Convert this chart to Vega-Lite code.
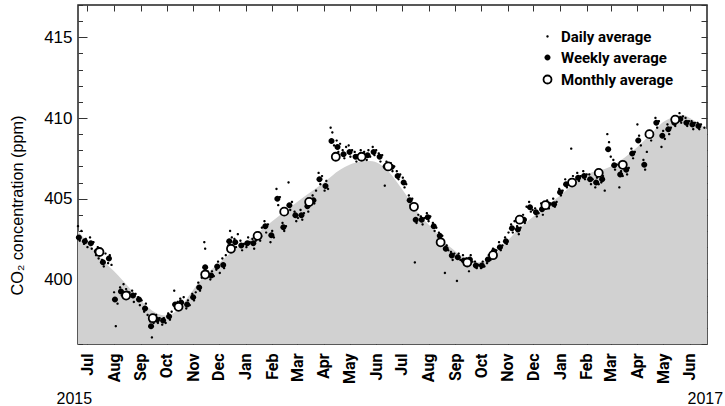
{
  "$schema": "https://vega.github.io/schema/vega-lite/v6.json",
  "width": 629,
  "height": 339,
  "autosize": {"type": "none"},
  "padding": {"left": 78, "top": 5, "right": 18, "bottom": 62},
  "background": "white",
  "config": {
    "view": {"stroke": "#222", "strokeWidth": 1.5},
    "axis": {"grid": false, "domain": false, "tickColor": "#333", "tickWidth": 1, "labelColor": "#000", "titleColor": "#000"}
  },
  "datasets": {
    "curve": [
      {"d": "2015-06-20", "v": 403.0}, {"d": "2015-07-01", "v": 402.3}, {"d": "2015-07-15", "v": 401.4},
      {"d": "2015-08-01", "v": 400.5}, {"d": "2015-08-10", "v": 400.0}, {"d": "2015-08-20", "v": 399.4},
      {"d": "2015-09-01", "v": 398.7}, {"d": "2015-09-15", "v": 398.05}, {"d": "2015-09-25", "v": 397.8},
      {"d": "2015-10-02", "v": 397.75}, {"d": "2015-10-10", "v": 397.95}, {"d": "2015-10-20", "v": 398.5},
      {"d": "2015-11-01", "v": 399.35}, {"d": "2015-11-12", "v": 400.1}, {"d": "2015-12-01", "v": 401.0},
      {"d": "2015-12-15", "v": 401.65}, {"d": "2016-01-01", "v": 402.3}, {"d": "2016-02-01", "v": 403.6},
      {"d": "2016-03-01", "v": 404.8}, {"d": "2016-04-01", "v": 406.0}, {"d": "2016-04-20", "v": 406.8},
      {"d": "2016-05-01", "v": 407.1}, {"d": "2016-05-15", "v": 407.3}, {"d": "2016-05-25", "v": 407.33},
      {"d": "2016-06-05", "v": 407.15}, {"d": "2016-06-15", "v": 406.7}, {"d": "2016-07-01", "v": 405.6},
      {"d": "2016-07-10", "v": 404.9}, {"d": "2016-07-20", "v": 404.1}, {"d": "2016-08-01", "v": 403.4},
      {"d": "2016-08-10", "v": 402.9}, {"d": "2016-08-20", "v": 402.3}, {"d": "2016-09-01", "v": 401.75},
      {"d": "2016-09-15", "v": 401.2}, {"d": "2016-09-25", "v": 401.05}, {"d": "2016-10-02", "v": 401.1},
      {"d": "2016-10-15", "v": 401.5}, {"d": "2016-11-01", "v": 402.4}, {"d": "2016-11-15", "v": 403.2},
      {"d": "2016-12-01", "v": 403.9}, {"d": "2017-01-01", "v": 405.2}, {"d": "2017-02-01", "v": 406.5},
      {"d": "2017-03-01", "v": 407.0}, {"d": "2017-04-01", "v": 408.2}, {"d": "2017-04-20", "v": 409.2},
      {"d": "2017-05-01", "v": 409.75}, {"d": "2017-05-15", "v": 410.1}, {"d": "2017-05-22", "v": 410.2},
      {"d": "2017-06-01", "v": 410.0}, {"d": "2017-06-10", "v": 409.7}, {"d": "2017-06-21", "v": 409.3}
    ],
    "obs": [
      {"d": "2015-06-20", "v": 403.3, "s": "D"}, {"d": "2015-06-22", "v": 402.4, "s": "D"}, {"d": "2015-06-24", "v": 403.0, "s": "D"},
      {"d": "2015-06-27", "v": 402.2, "s": "D"}, {"d": "2015-06-29", "v": 402.5, "s": "D"}, {"d": "2015-07-01", "v": 402.0, "s": "D"},
      {"d": "2015-07-04", "v": 402.6, "s": "D"}, {"d": "2015-07-06", "v": 401.9, "s": "D"}, {"d": "2015-07-08", "v": 402.3, "s": "D"},
      {"d": "2015-07-11", "v": 401.5, "s": "D"}, {"d": "2015-07-13", "v": 402.0, "s": "D"}, {"d": "2015-07-14", "v": 401.3, "s": "D"},
      {"d": "2015-07-18", "v": 401.2, "s": "D"}, {"d": "2015-07-20", "v": 400.8, "s": "D"}, {"d": "2015-07-22", "v": 401.6, "s": "D"},
      {"d": "2015-07-25", "v": 401.0, "s": "D"}, {"d": "2015-07-27", "v": 401.5, "s": "D"}, {"d": "2015-07-29", "v": 400.9, "s": "D"},
      {"d": "2015-08-01", "v": 399.2, "s": "D"}, {"d": "2015-08-03", "v": 397.1, "s": "D"}, {"d": "2015-08-05", "v": 398.5, "s": "D"},
      {"d": "2015-08-08", "v": 399.5, "s": "D"}, {"d": "2015-08-10", "v": 399.0, "s": "D"}, {"d": "2015-08-12", "v": 399.7, "s": "D"},
      {"d": "2015-08-15", "v": 399.4, "s": "D"}, {"d": "2015-08-17", "v": 398.9, "s": "D"}, {"d": "2015-08-19", "v": 399.2, "s": "D"},
      {"d": "2015-08-22", "v": 399.3, "s": "D"}, {"d": "2015-08-24", "v": 398.6, "s": "D"}, {"d": "2015-08-26", "v": 399.1, "s": "D"},
      {"d": "2015-08-29", "v": 398.9, "s": "D"}, {"d": "2015-08-31", "v": 398.4, "s": "D"}, {"d": "2015-09-02", "v": 398.7, "s": "D"},
      {"d": "2015-09-05", "v": 398.0, "s": "D"}, {"d": "2015-09-07", "v": 398.5, "s": "D"}, {"d": "2015-09-09", "v": 397.8, "s": "D"},
      {"d": "2015-09-12", "v": 397.4, "s": "D"}, {"d": "2015-09-14", "v": 396.4, "s": "D"}, {"d": "2015-09-16", "v": 397.3, "s": "D"},
      {"d": "2015-09-19", "v": 397.8, "s": "D"}, {"d": "2015-09-21", "v": 397.3, "s": "D"}, {"d": "2015-09-23", "v": 397.6, "s": "D"},
      {"d": "2015-09-26", "v": 397.2, "s": "D"}, {"d": "2015-09-28", "v": 397.6, "s": "D"}, {"d": "2015-09-30", "v": 397.3, "s": "D"},
      {"d": "2015-10-03", "v": 397.9, "s": "D"}, {"d": "2015-10-05", "v": 397.5, "s": "D"}, {"d": "2015-10-07", "v": 398.0, "s": "D"},
      {"d": "2015-10-10", "v": 399.3, "s": "D"}, {"d": "2015-10-12", "v": 398.3, "s": "D"}, {"d": "2015-10-14", "v": 398.6, "s": "D"},
      {"d": "2015-10-17", "v": 398.8, "s": "D"}, {"d": "2015-10-19", "v": 398.3, "s": "D"}, {"d": "2015-10-21", "v": 398.9, "s": "D"},
      {"d": "2015-10-24", "v": 398.2, "s": "D"}, {"d": "2015-10-26", "v": 398.7, "s": "D"}, {"d": "2015-10-28", "v": 398.4, "s": "D"},
      {"d": "2015-10-31", "v": 399.1, "s": "D"}, {"d": "2015-11-02", "v": 398.7, "s": "D"}, {"d": "2015-11-04", "v": 399.2, "s": "D"},
      {"d": "2015-11-07", "v": 399.8, "s": "D"}, {"d": "2015-11-09", "v": 399.3, "s": "D"}, {"d": "2015-11-11", "v": 400.1, "s": "D"},
      {"d": "2015-11-14", "v": 402.3, "s": "D"}, {"d": "2015-11-15", "v": 401.9, "s": "D"}, {"d": "2015-11-18", "v": 400.5, "s": "D"},
      {"d": "2015-11-21", "v": 400.0, "s": "D"}, {"d": "2015-11-23", "v": 400.5, "s": "D"}, {"d": "2015-11-25", "v": 400.2, "s": "D"},
      {"d": "2015-11-28", "v": 400.6, "s": "D"}, {"d": "2015-11-30", "v": 401.1, "s": "D"}, {"d": "2015-12-02", "v": 400.4, "s": "D"},
      {"d": "2015-12-05", "v": 401.3, "s": "D"}, {"d": "2015-12-07", "v": 400.7, "s": "D"}, {"d": "2015-12-09", "v": 401.5, "s": "D"},
      {"d": "2015-12-12", "v": 402.1, "s": "D"}, {"d": "2015-12-14", "v": 403.0, "s": "D"}, {"d": "2015-12-16", "v": 402.6, "s": "D"},
      {"d": "2015-12-19", "v": 402.5, "s": "D"}, {"d": "2015-12-21", "v": 402.0, "s": "D"}, {"d": "2015-12-23", "v": 402.8, "s": "D"},
      {"d": "2015-12-26", "v": 402.4, "s": "D"}, {"d": "2015-12-28", "v": 401.8, "s": "D"}, {"d": "2015-12-30", "v": 402.2, "s": "D"},
      {"d": "2016-01-02", "v": 402.0, "s": "D"}, {"d": "2016-01-04", "v": 402.6, "s": "D"}, {"d": "2016-01-06", "v": 402.3, "s": "D"},
      {"d": "2016-01-09", "v": 402.5, "s": "D"}, {"d": "2016-01-11", "v": 401.9, "s": "D"}, {"d": "2016-01-13", "v": 402.4, "s": "D"},
      {"d": "2016-01-16", "v": 402.9, "s": "D"}, {"d": "2016-01-18", "v": 402.4, "s": "D"}, {"d": "2016-01-20", "v": 403.2, "s": "D"},
      {"d": "2016-01-23", "v": 403.6, "s": "D"}, {"d": "2016-01-25", "v": 402.9, "s": "D"}, {"d": "2016-01-27", "v": 403.4, "s": "D"},
      {"d": "2016-01-30", "v": 402.3, "s": "D"}, {"d": "2016-02-01", "v": 403.0, "s": "D"}, {"d": "2016-02-03", "v": 402.6, "s": "D"},
      {"d": "2016-02-06", "v": 405.6, "s": "D"}, {"d": "2016-02-08", "v": 404.6, "s": "D"}, {"d": "2016-02-10", "v": 405.1, "s": "D"},
      {"d": "2016-02-13", "v": 403.5, "s": "D"}, {"d": "2016-02-15", "v": 403.0, "s": "D"}, {"d": "2016-02-17", "v": 403.3, "s": "D"},
      {"d": "2016-02-20", "v": 406.0, "s": "D"}, {"d": "2016-02-22", "v": 404.3, "s": "D"}, {"d": "2016-02-24", "v": 404.8, "s": "D"},
      {"d": "2016-02-27", "v": 404.2, "s": "D"}, {"d": "2016-02-29", "v": 403.6, "s": "D"}, {"d": "2016-03-02", "v": 403.8, "s": "D"},
      {"d": "2016-03-05", "v": 404.3, "s": "D"}, {"d": "2016-03-07", "v": 403.7, "s": "D"}, {"d": "2016-03-09", "v": 404.1, "s": "D"},
      {"d": "2016-03-12", "v": 404.8, "s": "D"}, {"d": "2016-03-14", "v": 404.2, "s": "D"}, {"d": "2016-03-16", "v": 404.6, "s": "D"},
      {"d": "2016-03-19", "v": 405.2, "s": "D"}, {"d": "2016-03-21", "v": 404.7, "s": "D"}, {"d": "2016-03-23", "v": 405.5, "s": "D"},
      {"d": "2016-03-26", "v": 406.6, "s": "D"}, {"d": "2016-03-28", "v": 405.9, "s": "D"}, {"d": "2016-03-30", "v": 406.4, "s": "D"},
      {"d": "2016-04-02", "v": 405.5, "s": "D"}, {"d": "2016-04-04", "v": 406.1, "s": "D"}, {"d": "2016-04-06", "v": 405.6, "s": "D"},
      {"d": "2016-04-09", "v": 409.4, "s": "D"}, {"d": "2016-04-11", "v": 409.1, "s": "D"}, {"d": "2016-04-13", "v": 408.3, "s": "D"},
      {"d": "2016-04-16", "v": 408.6, "s": "D"}, {"d": "2016-04-18", "v": 407.9, "s": "D"}, {"d": "2016-04-20", "v": 408.4, "s": "D"},
      {"d": "2016-04-23", "v": 408.0, "s": "D"}, {"d": "2016-04-25", "v": 407.5, "s": "D"}, {"d": "2016-04-27", "v": 408.2, "s": "D"},
      {"d": "2016-04-30", "v": 408.3, "s": "D"}, {"d": "2016-05-02", "v": 407.6, "s": "D"}, {"d": "2016-05-04", "v": 408.0, "s": "D"},
      {"d": "2016-05-07", "v": 407.9, "s": "D"}, {"d": "2016-05-09", "v": 407.3, "s": "D"}, {"d": "2016-05-11", "v": 407.7, "s": "D"},
      {"d": "2016-05-14", "v": 408.0, "s": "D"}, {"d": "2016-05-16", "v": 407.5, "s": "D"}, {"d": "2016-05-18", "v": 407.9, "s": "D"},
      {"d": "2016-05-21", "v": 407.4, "s": "D"}, {"d": "2016-05-23", "v": 408.0, "s": "D"}, {"d": "2016-05-25", "v": 407.6, "s": "D"},
      {"d": "2016-05-28", "v": 408.2, "s": "D"}, {"d": "2016-05-30", "v": 407.7, "s": "D"}, {"d": "2016-06-01", "v": 408.0, "s": "D"},
      {"d": "2016-06-04", "v": 407.8, "s": "D"}, {"d": "2016-06-06", "v": 407.3, "s": "D"}, {"d": "2016-06-08", "v": 407.7, "s": "D"},
      {"d": "2016-06-11", "v": 405.8, "s": "D"}, {"d": "2016-06-13", "v": 407.3, "s": "D"}, {"d": "2016-06-15", "v": 406.8, "s": "D"},
      {"d": "2016-06-18", "v": 407.2, "s": "D"}, {"d": "2016-06-20", "v": 406.7, "s": "D"}, {"d": "2016-06-22", "v": 407.0, "s": "D"},
      {"d": "2016-06-25", "v": 406.7, "s": "D"}, {"d": "2016-06-27", "v": 406.2, "s": "D"}, {"d": "2016-06-29", "v": 406.5, "s": "D"},
      {"d": "2016-07-02", "v": 406.3, "s": "D"}, {"d": "2016-07-04", "v": 405.7, "s": "D"}, {"d": "2016-07-06", "v": 405.9, "s": "D"},
      {"d": "2016-07-09", "v": 405.2, "s": "D"}, {"d": "2016-07-11", "v": 404.6, "s": "D"}, {"d": "2016-07-13", "v": 405.0, "s": "D"},
      {"d": "2016-07-16", "v": 401.05, "s": "D"}, {"d": "2016-07-18", "v": 403.5, "s": "D"}, {"d": "2016-07-20", "v": 404.0, "s": "D"},
      {"d": "2016-07-23", "v": 403.9, "s": "D"}, {"d": "2016-07-25", "v": 403.4, "s": "D"}, {"d": "2016-07-27", "v": 403.8, "s": "D"},
      {"d": "2016-07-30", "v": 404.1, "s": "D"}, {"d": "2016-08-01", "v": 403.6, "s": "D"}, {"d": "2016-08-03", "v": 403.9, "s": "D"},
      {"d": "2016-08-06", "v": 403.5, "s": "D"}, {"d": "2016-08-08", "v": 403.0, "s": "D"}, {"d": "2016-08-10", "v": 403.2, "s": "D"},
      {"d": "2016-08-13", "v": 402.9, "s": "D"}, {"d": "2016-08-15", "v": 402.4, "s": "D"}, {"d": "2016-08-17", "v": 402.7, "s": "D"},
      {"d": "2016-08-20", "v": 400.4, "s": "D"}, {"d": "2016-08-22", "v": 402.1, "s": "D"}, {"d": "2016-08-24", "v": 401.8, "s": "D"},
      {"d": "2016-08-27", "v": 401.7, "s": "D"}, {"d": "2016-08-29", "v": 401.2, "s": "D"}, {"d": "2016-08-31", "v": 401.6, "s": "D"},
      {"d": "2016-09-03", "v": 399.9, "s": "D"}, {"d": "2016-09-05", "v": 401.6, "s": "D"}, {"d": "2016-09-07", "v": 401.2, "s": "D"},
      {"d": "2016-09-10", "v": 401.5, "s": "D"}, {"d": "2016-09-12", "v": 400.9, "s": "D"}, {"d": "2016-09-14", "v": 401.3, "s": "D"},
      {"d": "2016-09-17", "v": 400.5, "s": "D"}, {"d": "2016-09-19", "v": 401.5, "s": "D"}, {"d": "2016-09-21", "v": 401.1, "s": "D"},
      {"d": "2016-09-24", "v": 401.1, "s": "D"}, {"d": "2016-09-26", "v": 400.7, "s": "D"}, {"d": "2016-09-28", "v": 400.9, "s": "D"},
      {"d": "2016-10-01", "v": 400.7, "s": "D"}, {"d": "2016-10-03", "v": 401.1, "s": "D"}, {"d": "2016-10-05", "v": 400.8, "s": "D"},
      {"d": "2016-10-08", "v": 401.0, "s": "D"}, {"d": "2016-10-10", "v": 401.5, "s": "D"}, {"d": "2016-10-12", "v": 401.2, "s": "D"},
      {"d": "2016-10-15", "v": 401.9, "s": "D"}, {"d": "2016-10-17", "v": 401.5, "s": "D"}, {"d": "2016-10-19", "v": 401.8, "s": "D"},
      {"d": "2016-10-22", "v": 402.3, "s": "D"}, {"d": "2016-10-24", "v": 401.8, "s": "D"}, {"d": "2016-10-26", "v": 402.1, "s": "D"},
      {"d": "2016-10-29", "v": 402.6, "s": "D"}, {"d": "2016-10-31", "v": 402.2, "s": "D"}, {"d": "2016-11-02", "v": 402.9, "s": "D"},
      {"d": "2016-11-05", "v": 403.4, "s": "D"}, {"d": "2016-11-07", "v": 402.9, "s": "D"}, {"d": "2016-11-09", "v": 403.6, "s": "D"},
      {"d": "2016-11-12", "v": 403.3, "s": "D"}, {"d": "2016-11-14", "v": 402.8, "s": "D"}, {"d": "2016-11-16", "v": 403.2, "s": "D"},
      {"d": "2016-11-19", "v": 404.0, "s": "D"}, {"d": "2016-11-21", "v": 403.5, "s": "D"}, {"d": "2016-11-23", "v": 404.5, "s": "D"},
      {"d": "2016-11-26", "v": 404.8, "s": "D"}, {"d": "2016-11-28", "v": 404.2, "s": "D"}, {"d": "2016-11-30", "v": 404.3, "s": "D"},
      {"d": "2016-12-03", "v": 404.4, "s": "D"}, {"d": "2016-12-05", "v": 403.9, "s": "D"}, {"d": "2016-12-07", "v": 404.1, "s": "D"},
      {"d": "2016-12-10", "v": 404.7, "s": "D"}, {"d": "2016-12-12", "v": 404.0, "s": "D"}, {"d": "2016-12-14", "v": 404.5, "s": "D"},
      {"d": "2016-12-17", "v": 404.9, "s": "D"}, {"d": "2016-12-19", "v": 404.4, "s": "D"}, {"d": "2016-12-21", "v": 404.7, "s": "D"},
      {"d": "2016-12-24", "v": 405.0, "s": "D"}, {"d": "2016-12-26", "v": 404.5, "s": "D"}, {"d": "2016-12-28", "v": 404.8, "s": "D"},
      {"d": "2016-12-31", "v": 405.6, "s": "D"}, {"d": "2017-01-02", "v": 405.2, "s": "D"}, {"d": "2017-01-04", "v": 405.5, "s": "D"},
      {"d": "2017-01-07", "v": 406.2, "s": "D"}, {"d": "2017-01-09", "v": 405.7, "s": "D"}, {"d": "2017-01-11", "v": 406.0, "s": "D"},
      {"d": "2017-01-14", "v": 408.1, "s": "D"}, {"d": "2017-01-16", "v": 406.4, "s": "D"}, {"d": "2017-01-18", "v": 405.9, "s": "D"},
      {"d": "2017-01-21", "v": 406.6, "s": "D"}, {"d": "2017-01-23", "v": 406.1, "s": "D"}, {"d": "2017-01-25", "v": 406.4, "s": "D"},
      {"d": "2017-01-28", "v": 406.7, "s": "D"}, {"d": "2017-01-30", "v": 406.2, "s": "D"}, {"d": "2017-02-01", "v": 406.5, "s": "D"},
      {"d": "2017-02-04", "v": 406.5, "s": "D"}, {"d": "2017-02-06", "v": 405.9, "s": "D"}, {"d": "2017-02-08", "v": 406.2, "s": "D"},
      {"d": "2017-02-11", "v": 405.7, "s": "D"}, {"d": "2017-02-13", "v": 406.3, "s": "D"}, {"d": "2017-02-15", "v": 405.9, "s": "D"},
      {"d": "2017-02-18", "v": 406.0, "s": "D"}, {"d": "2017-02-20", "v": 406.4, "s": "D"}, {"d": "2017-02-22", "v": 405.5, "s": "D"},
      {"d": "2017-02-25", "v": 409.0, "s": "D"}, {"d": "2017-02-27", "v": 408.5, "s": "D"}, {"d": "2017-03-01", "v": 407.6, "s": "D"},
      {"d": "2017-03-04", "v": 407.4, "s": "D"}, {"d": "2017-03-06", "v": 406.8, "s": "D"}, {"d": "2017-03-08", "v": 407.1, "s": "D"},
      {"d": "2017-03-11", "v": 405.7, "s": "D"}, {"d": "2017-03-13", "v": 406.7, "s": "D"}, {"d": "2017-03-15", "v": 406.4, "s": "D"},
      {"d": "2017-03-18", "v": 407.1, "s": "D"}, {"d": "2017-03-20", "v": 406.5, "s": "D"}, {"d": "2017-03-22", "v": 406.9, "s": "D"},
      {"d": "2017-03-25", "v": 408.1, "s": "D"}, {"d": "2017-03-27", "v": 407.5, "s": "D"}, {"d": "2017-03-29", "v": 407.9, "s": "D"},
      {"d": "2017-04-01", "v": 409.6, "s": "D"}, {"d": "2017-04-03", "v": 408.9, "s": "D"}, {"d": "2017-04-05", "v": 408.3, "s": "D"},
      {"d": "2017-04-08", "v": 407.4, "s": "D"}, {"d": "2017-04-10", "v": 406.8, "s": "D"}, {"d": "2017-04-12", "v": 407.9, "s": "D"},
      {"d": "2017-04-15", "v": 409.2, "s": "D"}, {"d": "2017-04-17", "v": 408.6, "s": "D"}, {"d": "2017-04-19", "v": 409.0, "s": "D"},
      {"d": "2017-04-22", "v": 410.0, "s": "D"}, {"d": "2017-04-24", "v": 409.4, "s": "D"}, {"d": "2017-04-26", "v": 409.8, "s": "D"},
      {"d": "2017-04-29", "v": 408.2, "s": "D"}, {"d": "2017-05-01", "v": 409.2, "s": "D"}, {"d": "2017-05-03", "v": 408.7, "s": "D"},
      {"d": "2017-05-06", "v": 409.6, "s": "D"}, {"d": "2017-05-08", "v": 409.0, "s": "D"}, {"d": "2017-05-10", "v": 409.4, "s": "D"},
      {"d": "2017-05-13", "v": 410.0, "s": "D"}, {"d": "2017-05-15", "v": 409.5, "s": "D"}, {"d": "2017-05-17", "v": 409.9, "s": "D"},
      {"d": "2017-05-20", "v": 410.3, "s": "D"}, {"d": "2017-05-22", "v": 409.7, "s": "D"}, {"d": "2017-05-24", "v": 410.1, "s": "D"},
      {"d": "2017-05-27", "v": 410.0, "s": "D"}, {"d": "2017-05-29", "v": 409.5, "s": "D"}, {"d": "2017-05-31", "v": 409.8, "s": "D"},
      {"d": "2017-06-03", "v": 409.8, "s": "D"}, {"d": "2017-06-05", "v": 409.3, "s": "D"}, {"d": "2017-06-07", "v": 409.7, "s": "D"},
      {"d": "2017-06-10", "v": 409.7, "s": "D"}, {"d": "2017-06-12", "v": 409.3, "s": "D"}, {"d": "2017-06-14", "v": 409.6, "s": "D"},
      {"d": "2017-06-18", "v": 409.4, "s": "D"},

      {"d": "2015-06-21", "v": 402.6, "s": "W"}, {"d": "2015-06-28", "v": 402.36, "s": "W"}, {"d": "2015-07-05", "v": 402.24, "s": "W"},
      {"d": "2015-07-12", "v": 401.74, "s": "W"}, {"d": "2015-07-19", "v": 401.06, "s": "W"}, {"d": "2015-07-26", "v": 401.3, "s": "W"},
      {"d": "2015-08-02", "v": 398.76, "s": "W"}, {"d": "2015-08-09", "v": 399.25, "s": "W"}, {"d": "2015-08-16", "v": 399.13, "s": "W"},
      {"d": "2015-08-23", "v": 399.0, "s": "W"}, {"d": "2015-08-30", "v": 398.76, "s": "W"}, {"d": "2015-09-06", "v": 398.2, "s": "W"},
      {"d": "2015-09-13", "v": 397.1, "s": "W"}, {"d": "2015-09-20", "v": 397.5, "s": "W"}, {"d": "2015-09-27", "v": 397.45, "s": "W"},
      {"d": "2015-10-04", "v": 397.7, "s": "W"}, {"d": "2015-10-11", "v": 398.45, "s": "W"}, {"d": "2015-10-18", "v": 398.57, "s": "W"},
      {"d": "2015-10-25", "v": 398.45, "s": "W"}, {"d": "2015-11-01", "v": 398.9, "s": "W"}, {"d": "2015-11-08", "v": 399.5, "s": "W"},
      {"d": "2015-11-15", "v": 400.75, "s": "W"}, {"d": "2015-11-22", "v": 400.25, "s": "W"}, {"d": "2015-11-29", "v": 400.8, "s": "W"},
      {"d": "2015-12-06", "v": 400.9, "s": "W"}, {"d": "2015-12-13", "v": 402.36, "s": "W"}, {"d": "2015-12-20", "v": 402.3, "s": "W"},
      {"d": "2015-12-27", "v": 402.1, "s": "W"}, {"d": "2016-01-03", "v": 402.24, "s": "W"}, {"d": "2016-01-10", "v": 402.24, "s": "W"},
      {"d": "2016-01-17", "v": 402.67, "s": "W"}, {"d": "2016-01-24", "v": 403.29, "s": "W"}, {"d": "2016-01-31", "v": 402.73, "s": "W"},
      {"d": "2016-02-07", "v": 405.0, "s": "W"}, {"d": "2016-02-14", "v": 403.23, "s": "W"}, {"d": "2016-02-21", "v": 404.6, "s": "W"},
      {"d": "2016-02-28", "v": 403.98, "s": "W"}, {"d": "2016-03-06", "v": 403.98, "s": "W"}, {"d": "2016-03-13", "v": 404.53, "s": "W"},
      {"d": "2016-03-20", "v": 404.9, "s": "W"}, {"d": "2016-03-27", "v": 406.2, "s": "W"}, {"d": "2016-04-03", "v": 405.78, "s": "W"},
      {"d": "2016-04-10", "v": 408.57, "s": "W"}, {"d": "2016-04-17", "v": 408.2, "s": "W"}, {"d": "2016-04-24", "v": 407.76, "s": "W"},
      {"d": "2016-05-01", "v": 407.9, "s": "W"}, {"d": "2016-05-08", "v": 407.6, "s": "W"}, {"d": "2016-05-15", "v": 407.7, "s": "W"},
      {"d": "2016-05-22", "v": 407.7, "s": "W"}, {"d": "2016-05-29", "v": 407.9, "s": "W"}, {"d": "2016-06-05", "v": 407.6, "s": "W"},
      {"d": "2016-06-12", "v": 407.0, "s": "W"}, {"d": "2016-06-19", "v": 406.96, "s": "W"}, {"d": "2016-06-26", "v": 406.4, "s": "W"},
      {"d": "2016-07-03", "v": 406.0, "s": "W"}, {"d": "2016-07-10", "v": 404.9, "s": "W"}, {"d": "2016-07-17", "v": 403.7, "s": "W"},
      {"d": "2016-07-24", "v": 403.7, "s": "W"}, {"d": "2016-07-31", "v": 403.85, "s": "W"}, {"d": "2016-08-07", "v": 403.29, "s": "W"},
      {"d": "2016-08-14", "v": 402.7, "s": "W"}, {"d": "2016-08-21", "v": 401.9, "s": "W"}, {"d": "2016-08-28", "v": 401.49, "s": "W"},
      {"d": "2016-09-04", "v": 401.37, "s": "W"}, {"d": "2016-09-11", "v": 401.18, "s": "W"}, {"d": "2016-09-18", "v": 401.24, "s": "W"},
      {"d": "2016-09-25", "v": 400.87, "s": "W"}, {"d": "2016-10-02", "v": 400.87, "s": "W"}, {"d": "2016-10-09", "v": 401.24, "s": "W"},
      {"d": "2016-10-16", "v": 401.74, "s": "W"}, {"d": "2016-10-23", "v": 402.0, "s": "W"}, {"d": "2016-10-30", "v": 402.36, "s": "W"},
      {"d": "2016-11-06", "v": 403.17, "s": "W"}, {"d": "2016-11-13", "v": 403.1, "s": "W"}, {"d": "2016-11-20", "v": 403.7, "s": "W"},
      {"d": "2016-11-27", "v": 404.47, "s": "W"}, {"d": "2016-12-04", "v": 404.16, "s": "W"}, {"d": "2016-12-11", "v": 404.35, "s": "W"},
      {"d": "2016-12-18", "v": 404.66, "s": "W"}, {"d": "2016-12-25", "v": 404.66, "s": "W"}, {"d": "2017-01-01", "v": 405.4, "s": "W"},
      {"d": "2017-01-08", "v": 405.9, "s": "W"}, {"d": "2017-01-15", "v": 406.1, "s": "W"}, {"d": "2017-01-22", "v": 406.3, "s": "W"},
      {"d": "2017-01-29", "v": 406.4, "s": "W"}, {"d": "2017-02-05", "v": 406.2, "s": "W"}, {"d": "2017-02-12", "v": 406.0, "s": "W"},
      {"d": "2017-02-19", "v": 406.2, "s": "W"}, {"d": "2017-02-26", "v": 408.07, "s": "W"}, {"d": "2017-03-05", "v": 407.08, "s": "W"},
      {"d": "2017-03-12", "v": 406.5, "s": "W"}, {"d": "2017-03-19", "v": 406.8, "s": "W"}, {"d": "2017-03-26", "v": 407.8, "s": "W"},
      {"d": "2017-04-02", "v": 408.6, "s": "W"}, {"d": "2017-04-09", "v": 407.1, "s": "W"}, {"d": "2017-04-16", "v": 408.9, "s": "W"},
      {"d": "2017-04-23", "v": 409.7, "s": "W"}, {"d": "2017-04-30", "v": 408.9, "s": "W"}, {"d": "2017-05-07", "v": 409.3, "s": "W"},
      {"d": "2017-05-14", "v": 409.7, "s": "W"}, {"d": "2017-05-21", "v": 409.94, "s": "W"}, {"d": "2017-05-28", "v": 409.7, "s": "W"},
      {"d": "2017-06-04", "v": 409.6, "s": "W"}, {"d": "2017-06-11", "v": 409.5, "s": "W"},

      {"d": "2015-07-15", "v": 401.7, "s": "M"}, {"d": "2015-08-15", "v": 399.0, "s": "M"}, {"d": "2015-09-15", "v": 397.6, "s": "M"},
      {"d": "2015-10-15", "v": 398.3, "s": "M"}, {"d": "2015-11-15", "v": 400.3, "s": "M"}, {"d": "2015-12-15", "v": 401.9, "s": "M"},
      {"d": "2016-01-15", "v": 402.7, "s": "M"}, {"d": "2016-02-15", "v": 404.2, "s": "M"}, {"d": "2016-03-15", "v": 404.8, "s": "M"},
      {"d": "2016-04-15", "v": 407.6, "s": "M"}, {"d": "2016-05-15", "v": 407.6, "s": "M"}, {"d": "2016-06-15", "v": 407.0, "s": "M"},
      {"d": "2016-07-15", "v": 404.5, "s": "M"}, {"d": "2016-08-15", "v": 402.3, "s": "M"}, {"d": "2016-09-15", "v": 401.05, "s": "M"},
      {"d": "2016-10-15", "v": 401.5, "s": "M"}, {"d": "2016-11-15", "v": 403.7, "s": "M"}, {"d": "2016-12-15", "v": 404.6, "s": "M"},
      {"d": "2017-01-15", "v": 406.0, "s": "M"}, {"d": "2017-02-15", "v": 406.6, "s": "M"}, {"d": "2017-03-15", "v": 407.1, "s": "M"},
      {"d": "2017-04-15", "v": 409.0, "s": "M"}, {"d": "2017-05-15", "v": 409.9, "s": "M"}
    ]
  },
  "resolve": {"axis": {"x": "independent", "y": "independent"}},
  "layer": [
    {
      "data": {"name": "curve"},
      "mark": {"type": "area", "color": "#d1d1d1", "interpolate": "monotone"},
      "encoding": {
        "x": {
          "field": "d", "type": "temporal",
          "scale": {"domain": [{"year": 2015, "month": 6, "date": 20}, {"year": 2017, "month": 6, "date": 21}], "nice": false},
          "axis": {
            "orient": "bottom", "tickCount": {"interval": "month", "step": 1}, "format": "%b",
            "labelAngle": -90, "labelFont": "Roboto", "labelFontSize": 16, "labelFontWeight": "bold", "labelColor": "#000",
            "labelFlush": false, "labelOverlap": false, "labelBound": false,
            "tickSize": -6, "labelPadding": 15,
            "title": "2015", "titleAngle": 0, "titleAnchor": "start", "titleAlign": "left", "titleBaseline": "alphabetic",
            "titleX": -22, "titleY": 59, "titleFont": "Liberation Sans", "titleFontSize": 16, "titleFontWeight": "normal", "titleColor": "#000"
          }
        },
        "y": {
          "field": "v", "type": "quantitative",
          "scale": {"domain": [396, 417], "nice": false, "zero": false},
          "axis": {
            "orient": "left",
            "values": [396, 397, 398, 399, 400, 401, 402, 403, 404, 405, 406, 407, 408, 409, 410, 411, 412, 413, 414, 415, 416, 417],
            "labelExpr": "datum.value % 5 === 0 ? datum.label : ''",
            "tickSize": {"condition": {"test": "datum.value % 5 === 0", "value": -9}, "value": -4.5},
            "labelPadding": 15, "labelFont": "Liberation Sans", "labelFontSize": 17, "labelColor": "#000",
            "title": "CO₂ concentration (ppm)", "titleFont": "Liberation Sans", "titleFontSize": 16.3,
            "titleFontWeight": "normal", "titleColor": "#000", "titlePadding": 18, "titleY": 200
          }
        },
        "y2": {"datum": 396}
      }
    },
    {
      "mark": {"type": "rule", "color": "#7f7f7f", "strokeWidth": 2},
      "encoding": {"y": {"datum": 400, "type": "quantitative", "axis": null}}
    },
    {
      "data": {"name": "obs"},
      "mark": {"type": "point", "size": 100, "strokeWidth": 1.8, "opacity": 1},
      "encoding": {
        "x": {
          "field": "d", "type": "temporal",
          "scale": {"domain": [{"year": 2015, "month": 6, "date": 20}, {"year": 2017, "month": 6, "date": 21}], "nice": false},
          "axis": {
            "orient": "top", "tickCount": {"interval": "month", "step": 1}, "labels": false, "tickSize": -6,
            "title": "2017", "titleAngle": 0, "titleAnchor": "start", "titleAlign": "left", "titleBaseline": "alphabetic",
            "titleX": 609, "titleY": 398, "titleFont": "Liberation Sans", "titleFontSize": 16, "titleFontWeight": "normal", "titleColor": "#000"
          }
        },
        "y": {
          "field": "v", "type": "quantitative",
          "scale": {"domain": [396, 417], "nice": false, "zero": false},
          "axis": {
            "orient": "right", "labels": false, "title": null, "tickSize": -6,
            "values": [396, 397, 398, 399, 400, 401, 402, 403, 404, 405, 406, 407, 408, 409, 410, 411, 412, 413, 414, 415, 416, 417]
          }
        },
        "shape": {
          "field": "s", "type": "nominal",
          "scale": {
            "domain": ["D", "W", "M"],
            "range": [
              "M-0.24,0A0.24,0.24,0,1,1,0.24,0A0.24,0.24,0,1,1,-0.24,0Z",
              "M-0.6,0A0.6,0.6,0,1,1,0.6,0A0.6,0.6,0,1,1,-0.6,0Z",
              "M-0.8,0A0.8,0.8,0,1,1,0.8,0A0.8,0.8,0,1,1,-0.8,0Z"
            ]
          },
          "legend": {
            "title": null, "orient": "none", "legendX": 462, "legendY": 24, "padding": 0,
            "labelExpr": "datum.label === 'D' ? 'Daily average' : datum.label === 'W' ? 'Weekly average' : 'Monthly average'",
            "labelFont": "Roboto", "labelFontSize": 15, "labelFontWeight": "bold", "labelColor": "#000",
            "symbolSize": 100, "symbolStrokeWidth": 1.8, "symbolOpacity": 1, "rowPadding": 5, "labelOffset": 6
          }
        },
        "fill": {"field": "s", "type": "nominal", "scale": {"domain": ["D", "W", "M"], "range": ["#000", "#000", "#fff"]}},
        "stroke": {"field": "s", "type": "nominal", "scale": {"domain": ["D", "W", "M"], "range": ["rgba(0,0,0,0)", "rgba(0,0,0,0)", "#000"]}}
      }
    }
  ]
}
